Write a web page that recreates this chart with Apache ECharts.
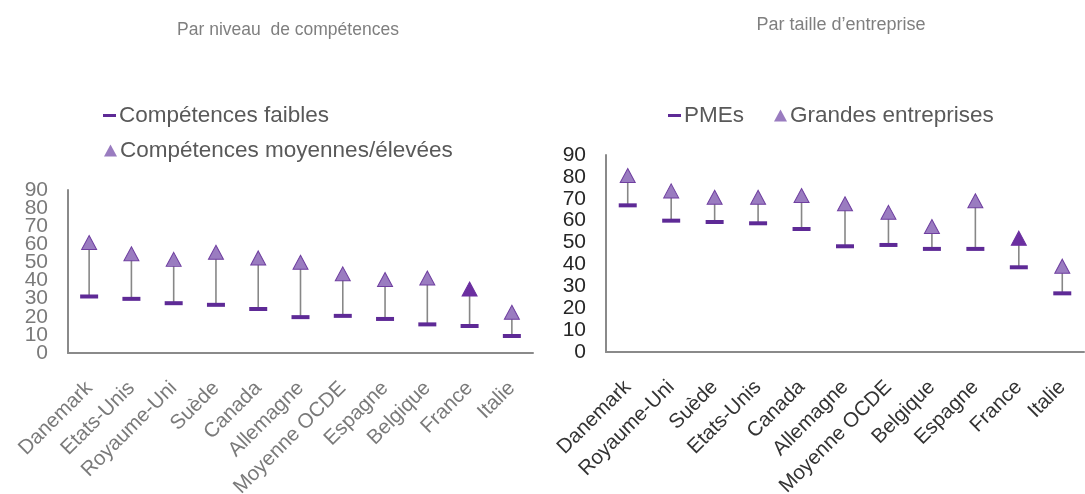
<!DOCTYPE html>
<html>
<head>
<meta charset="utf-8">
<script src="https://cdn.jsdelivr.net/npm/echarts@6/dist/echarts.min.js"></script>
<style>
  html, body { margin: 0; padding: 0; background: #fff; }
  #chart { width: 1085px; height: 494px; }
</style>
</head>
<body>
<div id="chart"></div>
<script>
// Par niveau de compétences
const skillCountries = ['Danemark', 'Etats-Unis', 'Royaume-Uni', 'Suède', 'Canada', 'Allemagne',
  'Moyenne OCDE', 'Espagne', 'Belgique', 'France', 'Italie'];
const skillLow = [31.2, 29.9, 27.5, 26.6, 24.3, 19.8, 20.5, 18.8, 15.8, 14.9, 9.4];
const skillHigh = [61.0, 54.8, 51.7, 55.6, 52.5, 50.1, 43.7, 40.6, 41.4, 35.3, 22.5];

// Par taille d'entreprise
const sizeCountries = ['Danemark', 'Royaume-Uni', 'Suède', 'Etats-Unis', 'Canada', 'Allemagne',
  'Moyenne OCDE', 'Belgique', 'Espagne', 'France', 'Italie'];
const sizeSme = [67.0, 60.0, 59.4, 58.8, 56.2, 48.3, 48.9, 47.1, 47.1, 38.7, 26.8];
const sizeLarge = [80.6, 73.6, 70.7, 70.7, 71.5, 67.7, 63.8, 57.3, 69.1, 52.0, 39.2];

const yTicks = { min: 0, max: 90, interval: 10 };
const highlighted = 'France';

const FONT = '"Liberation Sans", Arial, sans-serif';
const LOW_COLOR = '#5e2a96';
const HIGH_FILL = '#9a7cc0';
const HIGH_BORDER = '#6f3fa0';
const HIGH_DARK = '#6b2fa0';
const STEM_COLOR = '#878787';
const AXIS_COLOR = '#8a8a8a';

function stemSeries(xIndex, yIndex, low, high) {
  return {
    type: 'custom',
    xAxisIndex: xIndex,
    yAxisIndex: yIndex,
    silent: true,
    z: 1,
    data: low.map((v, i) => [i, v, high[i]]),
    renderItem: function (params, api) {
      const a = api.coord([api.value(0), api.value(1)]);
      const b = api.coord([api.value(0), api.value(2)]);
      return {
        type: 'line',
        shape: { x1: a[0], y1: a[1], x2: b[0], y2: b[1] },
        style: { stroke: STEM_COLOR, lineWidth: 1.6 }
      };
    }
  };
}

function lowSeries(name, xIndex, yIndex, values) {
  return {
    name: name,
    type: 'scatter',
    xAxisIndex: xIndex,
    yAxisIndex: yIndex,
    symbol: 'rect',
    symbolSize: [18, 4],
    itemStyle: { color: LOW_COLOR, opacity: 1 },
    z: 3,
    data: values
  };
}

function highSeries(name, xIndex, yIndex, values, cats) {
  return {
    name: name,
    type: 'scatter',
    xAxisIndex: xIndex,
    yAxisIndex: yIndex,
    symbol: 'triangle',
    symbolSize: [15, 14],
    itemStyle: { color: HIGH_FILL, borderColor: HIGH_BORDER, borderWidth: 1, opacity: 1 },
    z: 3,
    data: values.map((v, i) => cats[i] === highlighted
      ? { value: v, itemStyle: { color: HIGH_DARK, borderColor: HIGH_DARK } }
      : v)
  };
}

function xAxis(gridIndex, cats, color) {
  return {
    type: 'category',
    gridIndex: gridIndex,
    data: cats,
    boundaryGap: true,
    axisLine: { lineStyle: { color: AXIS_COLOR, width: 2 } },
    axisTick: { show: false },
    axisLabel: { rotate: 45, interval: 0, margin: 32, color: color, fontSize: 20.5, fontFamily: FONT,
      hideOverlap: false }
  };
}

function yAxis(gridIndex, color, extra) {
  const axis = {
    type: 'value',
    gridIndex: gridIndex,
    position: 'left',
    offset: 0,
    min: yTicks.min,
    max: yTicks.max,
    interval: yTicks.interval,
    axisLine: { show: true, lineStyle: { color: AXIS_COLOR, width: 2 } },
    axisTick: { show: false },
    splitLine: { show: false },
    axisLabel: { margin: 20, color: color, fontSize: 21, fontFamily: FONT, hideOverlap: false }
  };
  if (extra) {
    Object.assign(axis.axisLabel, extra.axisLabel || {});
    if (extra.axisLine) axis.axisLine = extra.axisLine;
  }
  return axis;
}

// The left panel is short and its tick labels crowd each other, so the
// inner labels and the two end labels sit on two overlaid axes.
const leftInner = yAxis(0, '#7a7a7a', {
  axisLabel: { showMinLabel: false, showMaxLabel: false }
});
const leftEnds = yAxis(0, '#7a7a7a', {
  axisLine: { show: false },
  axisLabel: {
    showMinLabel: true,
    showMaxLabel: true,
    formatter: v => (v === yTicks.min || v === yTicks.max) ? String(v) : ''
  }
});
const rightAxis = yAxis(1, '#262626', { axisLabel: { showMinLabel: true, showMaxLabel: true } });

function legend(name, left, top, icon, w, h, color) {
  return {
    data: [{ name: name, icon: icon, itemStyle: { color: color, borderWidth: 0 } }],
    left: left,
    top: top,
    itemWidth: w,
    itemHeight: h,
    itemGap: 0,
    padding: 0,
    selectedMode: false,
    textStyle: { color: '#595959', fontSize: 22.5, fontFamily: FONT, padding: [0, 0, 0, -2] }
  };
}

const chart = echarts.init(document.getElementById('chart'), null, { renderer: 'canvas' });
chart.setOption({
  backgroundColor: '#ffffff',
  animation: false,
  title: [
    { text: 'Par niveau  de compétences', left: 283, top: 16, textAlign: 'center',
      textStyle: { color: '#7f7f7f', fontSize: 17.5, fontWeight: 'normal', fontFamily: FONT } },
    { text: 'Par taille d\u2019entreprise', left: 836, top: 11, textAlign: 'center',
      textStyle: { color: '#7f7f7f', fontSize: 18, fontWeight: 'normal', fontFamily: FONT } }
  ],
  legend: [
    legend('Compétences faibles', 103, 104, 'rect', 13, 3, LOW_COLOR),
    legend('Compétences moyennes/élevées', 104, 139, 'triangle', 13, 12, HIGH_FILL),
    legend('PMEs', 668, 104, 'rect', 13, 3, LOW_COLOR),
    legend('Grandes entreprises', 774, 104, 'triangle', 13, 12, HIGH_FILL)
  ],
  // Rotated country names may run past the bottom edge; the plot keeps its size.
  grid: [
    { left: 68, right: 552, top: 190, bottom: 141, outerBoundsMode: 'none' },
    { left: 606, right: 1, top: 155, bottom: 142, outerBoundsMode: 'none' }
  ],
  xAxis: [xAxis(0, skillCountries, '#7a7a7a'), xAxis(1, sizeCountries, '#333333')],
  yAxis: [leftInner, leftEnds, rightAxis],
  series: [
    stemSeries(0, 0, skillLow, skillHigh),
    lowSeries('Compétences faibles', 0, 0, skillLow),
    highSeries('Compétences moyennes/élevées', 0, 0, skillHigh, skillCountries),
    stemSeries(1, 2, sizeSme, sizeLarge),
    lowSeries('PMEs', 1, 2, sizeSme),
    highSeries('Grandes entreprises', 1, 2, sizeLarge, sizeCountries)
  ]
});
</script>
</body>
</html>
